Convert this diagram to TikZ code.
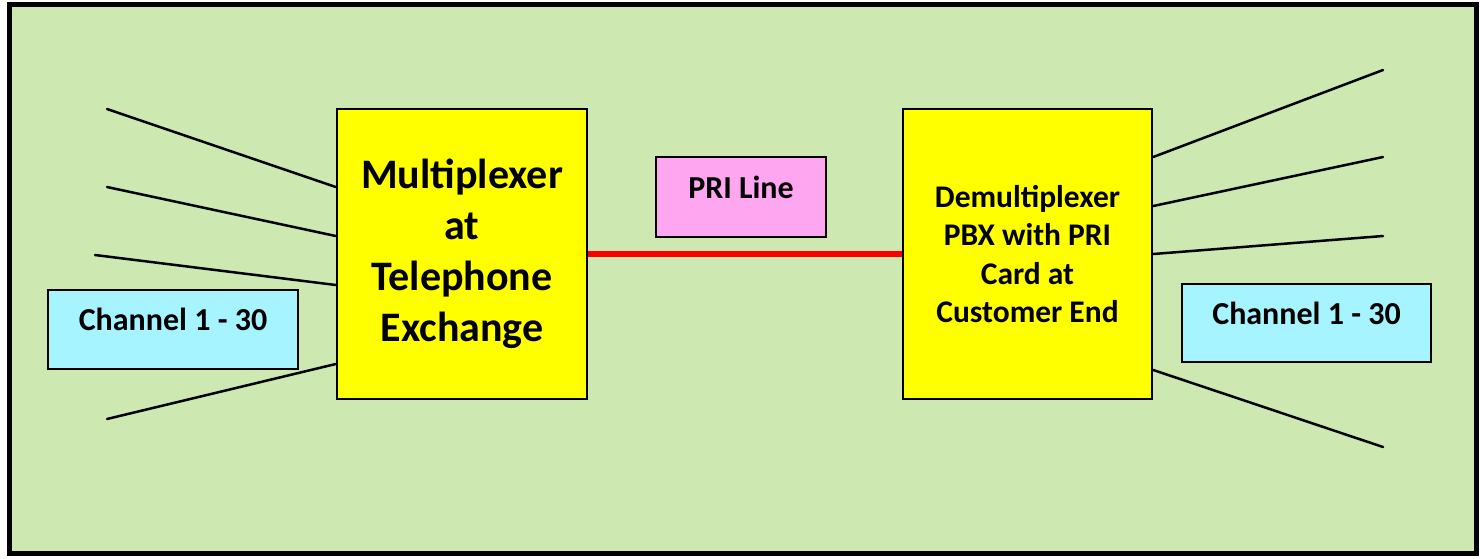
\documentclass[tikz,border=0pt]{standalone}
\usepackage{fontspec}
\setmainfont{Carlito}
\definecolor{bggreen}{RGB}{205,232,176}
\definecolor{boxyellow}{RGB}{255,255,0}
\definecolor{chancyan}{RGB}{166,244,255}
\definecolor{pripink}{RGB}{255,166,240}
\begin{document}
\begin{tikzpicture}[x=1pt,y=-1pt,
    box/.style={draw=black, line width=2.5pt, inner sep=0pt, align=center},
    unit/.style={box, fill=boxyellow, minimum width=250pt, minimum height=290pt},
    tag/.style={box, text height=20pt, text depth=18pt, font=\fontsize{32}{38}\selectfont\bfseries},
    fan/.style={line width=2.5pt, line cap=round},
    pri/.style={red, line width=6pt}]
        \useasboundingbox (0,0) rectangle (1480,558);
        %Frame
        \draw[line width=5pt, fill=bggreen] (9,4.5) rectangle (1476,553);
        %Units
        \node[unit, font=\fontsize{42}{51}\selectfont\bfseries] (mux) at (462,254)
          {Multiplexer\\at\\Telephone\\Exchange};
        \node[unit, minimum width=249pt, font=\fontsize{31.5}{38.5}\selectfont\bfseries] (demux) at (1027.5,254)
          {Demultiplexer\\PBX with PRI\\Card at\\Customer End};
        %Labels
        \node[tag, fill=pripink, minimum width=170pt, minimum height=80pt] (priline) at (741,197) {PRI Line};
        \node[tag, fill=chancyan, minimum width=250pt, minimum height=79pt] (chanL) at (173,329.5) {Channel 1 - 30};
        \node[tag, fill=chancyan, minimum width=249pt, minimum height=78pt] (chanR) at (1306.5,323) {Channel 1 - 30};
        %Channel ends
        \coordinate (l1) at (107,109);
        \coordinate (l2) at (107,187);
        \coordinate (l3) at (95,255);
        \coordinate (l4) at (107,419);
        \coordinate (r1) at (1383,70);
        \coordinate (r2) at (1383,157);
        \coordinate (r3) at (1383,236);
        \coordinate (r4) at (1383,447);
        %Channels in
        \foreach \e/\y in {l1/187, l2/236, l3/285, l4/364}
          \draw[fan] (\e) -- (mux.west |- 0,\y);
        %Channels out
        \foreach \e/\y in {r1/157, r2/206, r3/254, r4/370}
          \draw[fan] (demux.east |- 0,\y) -- (\e);
        %PRI line
        \draw[pri] (mux.east) -- (demux.west);
      \end{tikzpicture}
\end{document}
